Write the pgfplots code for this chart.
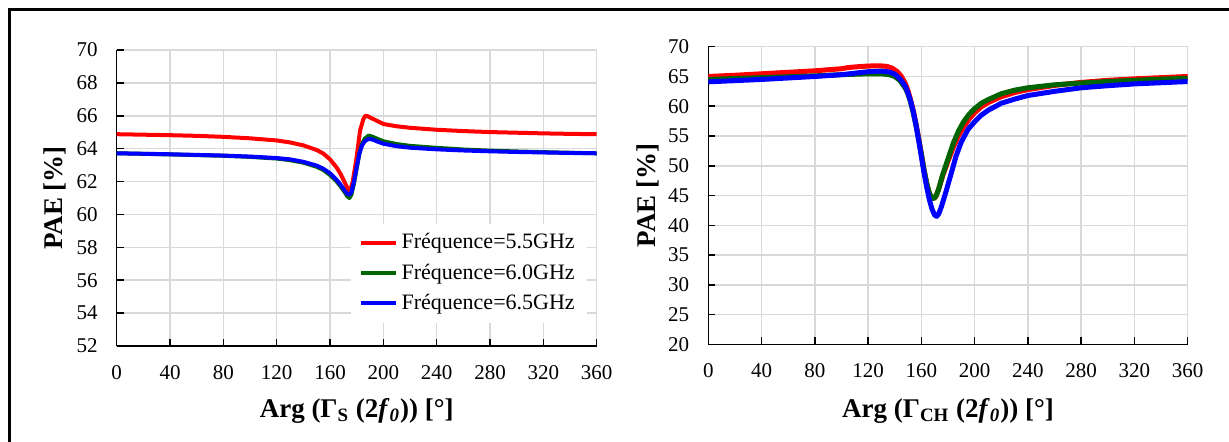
\documentclass[border=0pt]{standalone}
\usepackage{fontspec}
\setmainfont{Liberation Serif}
\usepackage{pgfplots}
\pgfplotsset{compat=1.18}
\definecolor{gridc}{RGB}{217,217,217}
\definecolor{cred}{RGB}{255,0,0}
\definecolor{cgreen}{RGB}{0,100,0}
\definecolor{cblue}{RGB}{0,0,255}
\pgfplotsset{
 mystyle/.style={
  scale only axis,
  axis x line*=bottom, axis y line*=left,
  axis line style={-, black, line width=0.75pt},
  grid=major, grid style={gridc, line width=0.75pt},
  tick align=inside, major tick length=3.5pt,
  tick style={black, line width=0.75pt},
  xmin=0, xmax=360, xtick={0,40,...,360},
  /pgf/number format/assume math mode=true,
  tick label style={font=\fontsize{10.5}{12}\selectfont},
  xticklabel shift=6pt, yticklabel shift=6pt,
  label style={font=\fontsize{13.5}{15}\selectfont\bfseries},
 }
}
\pgfplotstableread{
x y
0 64.88
20 64.85
40 64.82
60 64.78
80 64.72
100 64.63
120 64.50
130 64.38
140 64.20
150 63.92
155 63.70
160 63.35
165 62.85
168 62.45
171 61.95
173 61.62
175 61.40
177 62.00
180 63.50
182.5 65.10
185 65.80
186.5 66.00
188 65.98
190 65.90
195 65.70
200 65.50
210 65.36
220 65.27
240 65.15
260 65.07
280 65.01
300 64.97
320 64.93
340 64.90
360 64.88
}\LredA
\pgfplotstableread{
x y
0 63.72
40 63.65
80 63.57
100 63.50
120 63.40
130 63.30
140 63.15
150 62.90
155 62.70
160 62.40
165 62.00
168 61.70
171 61.35
173 61.10
174.5 61.00
176 61.20
178 61.90
180 62.80
182 63.70
184 64.30
186 64.60
189 64.80
192 64.72
196 64.58
200 64.45
210 64.28
220 64.17
240 64.05
260 63.95
280 63.88
300 63.83
320 63.79
340 63.75
360 63.72
}\LgreenA
\pgfplotstableread{
x y
0 63.72
40 63.66
80 63.58
100 63.52
120 63.43
130 63.35
140 63.20
150 62.97
155 62.78
160 62.50
165 62.10
168 61.80
171 61.45
173 61.25
174.5 61.20
176 61.35
178 62.00
180 62.90
182 63.70
184 64.20
186 64.45
189 64.60
192 64.55
196 64.42
200 64.30
210 64.15
220 64.06
240 63.96
260 63.89
280 63.84
300 63.80
320 63.77
340 63.74
360 63.72
}\LblueA
\pgfplotstableread{
x y
0 65.0
20 65.2
40 65.45
60 65.7
80 65.95
100 66.3
105 66.5
110 66.6
120 66.75
128 66.8
134 66.7
138 66.4
142 65.8
145 65.0
148 63.8
150 62.6
152 61.0
154 59.2
156 57.0
158 54.6
160 52.0
162 49.3
164 47.0
166 45.3
168 44.6
169.5 44.5
171 44.9
173 46.1
176 48.3
180 50.8
184 53.1
188 55.1
192 56.6
196 57.9
200 58.9
205 59.9
210 60.6
220 61.6
230 62.3
240 62.8
260 63.5
280 64.0
300 64.35
320 64.6
340 64.8
360 65.0
}\RredA
\pgfplotstableread{
x y
0 64.5
20 64.65
40 64.8
60 64.95
80 65.1
100 65.3
120 65.45
130 65.45
136 65.3
140 65.0
144 64.3
148 63.0
150 62.0
152 60.6
154 58.8
156 56.7
158 54.4
160 51.9
162 49.3
164 47.1
166 45.4
168 44.6
169.5 44.5
171 44.9
173 46.1
176 48.5
180 51.2
184 53.8
188 55.9
192 57.5
196 58.7
200 59.6
205 60.5
210 61.1
220 62.1
230 62.7
240 63.1
260 63.6
280 63.9
300 64.15
320 64.35
340 64.55
360 64.7
}\RgreenA
\pgfplotstableread{
x y
0 64.1
20 64.3
40 64.5
60 64.75
80 65.0
100 65.3
110 65.55
120 65.8
130 65.9
136 65.75
140 65.4
144 64.6
148 63.3
150 62.2
152 60.8
154 59.0
156 56.8
158 54.2
160 51.5
162 48.8
164 46.4
166 44.3
168 42.7
170 41.7
171.5 41.5
173 41.9
175 43.1
178 45.3
182 48.4
186 51.6
190 54.0
195 56.1
200 57.4
205 58.5
210 59.3
220 60.5
230 61.2
240 61.8
260 62.5
280 63.1
300 63.45
320 63.75
340 63.95
360 64.15
}\RblueA
\begin{document}
\begin{tikzpicture}
\path[use as bounding box] (0,0) rectangle (614.5pt,220.5pt);
\draw[line width=1.5pt] (4.5pt,-5pt) -- (4.5pt,216pt) -- (620pt,216pt);
\begin{axis}[mystyle,
  at={(58.35pt,47.5pt)}, anchor=south west,
  width=240pt, height=148pt,
  ymin=52, ymax=70, ytick={52,54,...,70},
  xlabel={Arg (Γ\textsubscript{S} (2\textit{f}\textsubscript{\textit{0}})) [°]},
  ylabel={PAE [\%]},
  xlabel style={at={([yshift=-32.5pt]rel axis cs:0.5,0)}, anchor=center},
  ylabel style={at={([xshift=-30.8pt]rel axis cs:0,0.5)}, anchor=center},
  legend style={at={(rel axis cs:0.98,0.078)}, anchor=south east, draw=none, fill=white,
    font=\fontsize{11}{13}\selectfont, row sep=2pt, inner xsep=4pt, inner ysep=3pt},
  legend cell align=left,
  legend image code/.code={\draw[#1] (0pt,0pt) -- (17.5pt,0pt);},
]
\addplot[cred, line width=2pt, line join=round] table {\LredA};
\addlegendentry{Fréquence=5.5GHz}
\addplot[cgreen, line width=2pt, line join=round] table {\LgreenA};
\addlegendentry{Fréquence=6.0GHz}
\addplot[cblue, line width=2pt, line join=round] table {\LblueA};
\addlegendentry{Fréquence=6.5GHz}
\end{axis}
\begin{axis}[mystyle,
  at={(354.15pt,48.35pt)}, anchor=south west,
  width=239.7pt, height=148.8pt,
  ymin=20, ymax=70, ytick={20,25,...,70},
  xlabel={Arg (Γ\textsubscript{CH} (2\textit{f}\textsubscript{\textit{0}})) [°]},
  ylabel={PAE [\%]},
  xlabel style={at={([yshift=-33.3pt]rel axis cs:0.5,0)}, anchor=center},
  ylabel style={at={([xshift=-30.2pt]rel axis cs:0,0.5)}, anchor=center},
]
\addplot[cred, line width=2.5pt, line join=round] table {\RredA};
\addplot[cgreen, line width=2.5pt, line join=round] table {\RgreenA};
\addplot[cblue, line width=2.5pt, line join=round] table {\RblueA};
\end{axis}
\end{tikzpicture}
\end{document}
